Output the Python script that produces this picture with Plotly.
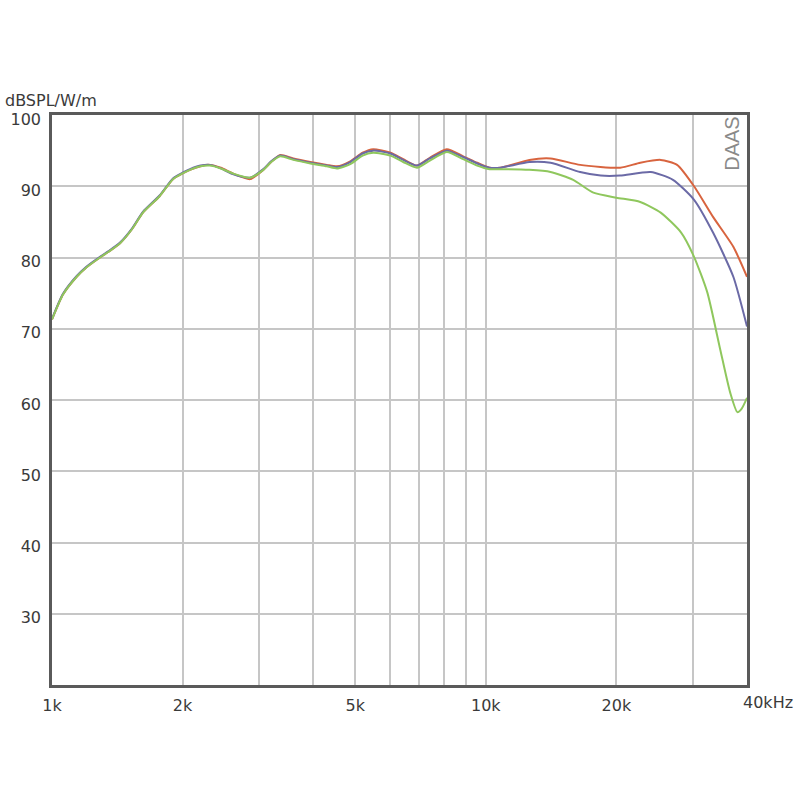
import numpy as np
import plotly.graph_objects as go

# ---- data (frequency in Hz, level in dB SPL/W/m) ----
freq_lo = [1000, 1060, 1140, 1200, 1290, 1350, 1435, 1530, 1620, 1770, 1900, 2000,
           2080, 2200, 2310, 2450, 2610, 2860, 3070, 3200, 3360, 3600, 3940, 4300,
           4540, 4870, 5200, 5500, 6030, 6450, 6940, 7430, 8130, 8870, 9550, 10200]

red_lo = [71.3, 74.8, 77.3, 78.6, 80.0, 80.8, 82.0, 84.0, 86.3, 88.6, 91.0, 91.8,
          92.3, 92.8, 93.0, 92.6, 91.8, 91.0, 92.3, 93.4, 94.4, 93.9, 93.4, 93.0,
          92.8, 93.5, 94.7, 95.2, 94.7, 93.8, 92.9, 94.0, 95.2, 94.2, 93.3, 92.6]
blue_lo = [71.4, 74.9, 77.4, 78.7, 80.1, 80.9, 82.1, 84.1, 86.4, 88.7, 91.1, 91.9,
           92.4, 92.9, 93.0, 92.5, 91.7, 91.2, 92.4, 93.5, 94.3, 93.8, 93.3, 92.9,
           92.7, 93.4, 94.6, 95.0, 94.6, 93.7, 92.9, 93.9, 95.0, 94.1, 93.2, 92.6]
green_lo = [71.3, 74.8, 77.3, 78.6, 80.0, 80.8, 82.0, 84.0, 86.3, 88.6, 91.0, 91.8,
            92.3, 92.8, 92.9, 92.5, 91.8, 91.2, 92.3, 93.4, 94.2, 93.7, 93.2, 92.8,
            92.5, 93.1, 94.3, 94.7, 94.3, 93.4, 92.6, 93.6, 94.8, 93.8, 92.9, 92.4]

red_hi_freq = [10800, 12600, 14100, 16500, 20400, 22700, 25300, 27600, 30200, 33400, 37200, 40000]
red_hi = [92.6, 93.7, 93.9, 93.0, 92.6, 93.3, 93.7, 93.0, 90.0, 85.7, 81.5, 77.3]

blue_hi_freq = [10800, 12600, 14100, 16500, 18400, 20400, 24000, 27000, 30200, 33400, 37200, 40000]
blue_hi = [92.6, 93.4, 93.3, 92.0, 91.5, 91.5, 92.0, 90.9, 88.1, 83.5, 77.3, 70.3]

green_hi_freq = [10800, 12600, 14100, 15900, 17700, 20000, 22700, 25300, 28200, 30200,
                 32400, 34700, 36600, 38000, 38900, 40000]
green_hi = [92.4, 92.3, 92.0, 90.9, 89.1, 88.4, 87.8, 86.3, 83.5, 80.1,
            75.1, 67.1, 61.0, 58.3, 58.8, 60.3]

x_grid = [1000, 2000, 3000, 4000, 5000, 6000, 7000, 8000, 9000, 10000, 20000, 30000, 40000]
x_text = ["1k", "2k", "", "", "5k", "", "", "", "", "10k", "20k", "", ""]
y_ticks = [30, 40, 50, 60, 70, 80, 90, 100]

series = [
    ("red", freq_lo + red_hi_freq, red_lo + red_hi, "#d8643f"),
    ("blue", freq_lo + blue_hi_freq, blue_lo + blue_hi, "#6b6aa6"),
    ("green", freq_lo + green_hi_freq, green_lo + green_hi, "#8fc75d"),
]

fig = go.Figure()
for name, fx, fy, col in series:
    fig.add_trace(go.Scatter(x=fx, y=fy, mode="lines", name=name,
                             line=dict(color=col, width=2, shape="spline", smoothing=0.6),
                             showlegend=False))

font = dict(family="DejaVu Sans, sans-serif", size=16, color="#3a3a3a")

fig.update_layout(
    width=800, height=800,
    margin=dict(l=52, r=53, t=115, b=115),
    paper_bgcolor="white", plot_bgcolor="white",
    font=font,
    xaxis=dict(type="log", range=[np.log10(1000), np.log10(40000)],
               tickvals=x_grid, ticktext=x_text, ticks="",
               showgrid=True, gridcolor="#c6c6c6", gridwidth=1.5,
               showline=True, linecolor="#5a5a5a", linewidth=2.5, mirror=True,
               zeroline=False, ticklabelstandoff=4, tickfont=font),
    yaxis=dict(range=[20, 100], tickvals=y_ticks, ticks="",
               showgrid=True, gridcolor="#c6c6c6", gridwidth=1.5,
               showline=True, linecolor="#5a5a5a", linewidth=2.5, mirror=True,
               zeroline=False, ticklabelstandoff=5, ticklabelshift=4, tickfont=font),
)

fig.add_annotation(text="40kHz", xref="paper", yref="paper", x=1.0, y=0.0,
                   xanchor="left", yanchor="top", xshift=-6, yshift=-6,
                   showarrow=False, font=font)
fig.add_annotation(text="dBSPL/W/m", xref="paper", yref="paper", x=-0.0705, y=1.0246,
                   xanchor="left", yanchor="middle", showarrow=False,
                   font=dict(family="DejaVu Sans, sans-serif", size=16, color="#3a3a3a"))
fig.add_annotation(text="DAAS", xref="paper", yref="paper", x=0.978, y=0.949,
                   xanchor="center", yanchor="middle", textangle=-90, showarrow=False,
                   font=dict(family="Liberation Sans, Arial, sans-serif", size=20, color="#8a8a8a"))

fig.write_html("out.html", config={"displayModeBar": False},
               post_script="document.body.style.margin='0';")
